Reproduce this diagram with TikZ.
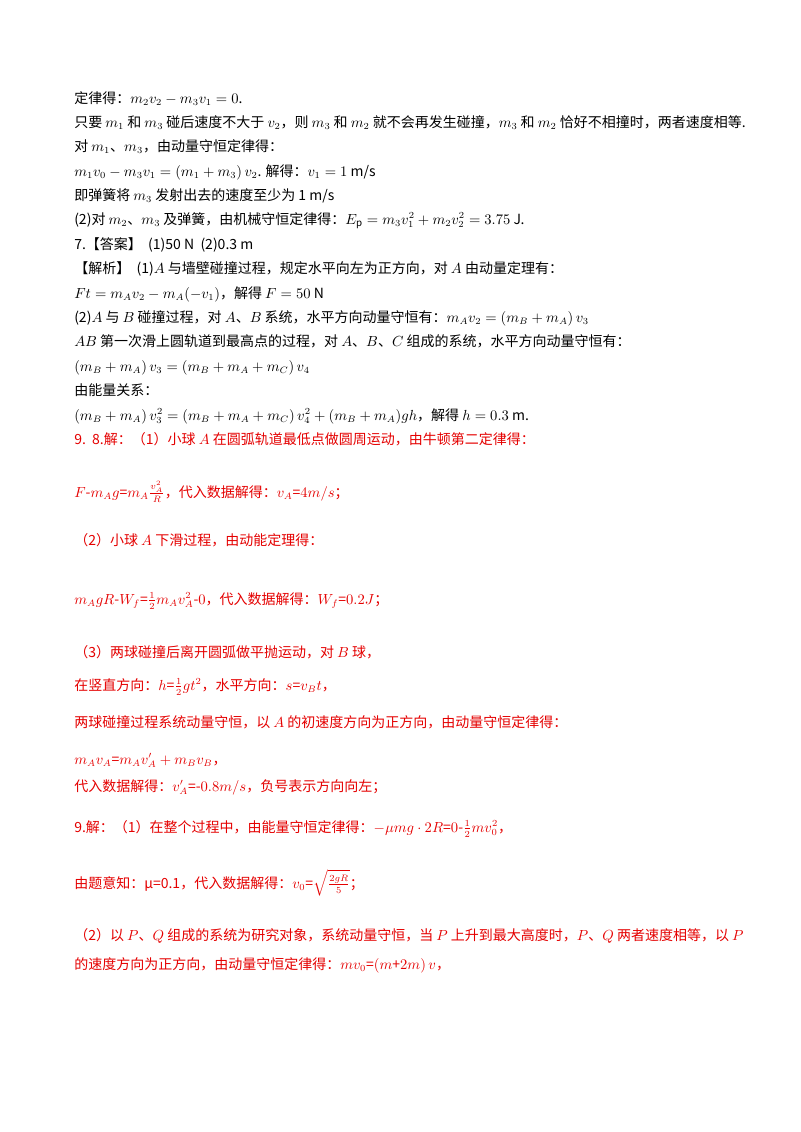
\documentclass[tikz,border=0pt]{standalone}
\usepackage{fontspec}
\setmainfont{Noto Sans CJK SC}
\usepackage{amsmath}
\begin{document}
\begin{tikzpicture}[x=0.75pt,y=-0.75pt,
  ln/.style={anchor=base west,inner sep=0pt,text height=8pt,text depth=2pt,font=\fontsize{10.5pt}{12pt}\selectfont},
  rl/.style={ln,text=red!90!black}]
\useasboundingbox[fill=white] (0,0) rectangle (800,1132);
\node[ln] (l1) at (74,103) {定律得：$m_2v_2-m_3v_1=0$.};
\node[ln] (l2) at (74,127) {只要 $m_1$ 和 $m_3$ 碰后速度不大于 $v_2$，则 $m_3$ 和 $m_2$ 就不会再发生碰撞，$m_3$ 和 $m_2$ 恰好不相撞时，两者速度相等.};
\node[ln] (l3) at (74,151) {对 $m_1$、$m_3$，由动量守恒定律得：};
\node[ln] (l4) at (74,176) {$m_1v_0-m_3v_1=(m_1+m_3)\,v_2$. 解得：$v_1=1$ m/s};
\node[ln] (l5) at (74,200) {即弹簧将 $m_3$ 发射出去的速度至少为 1 m/s};
\node[ln] (l6) at (74,224) {(2)对 $m_2$、$m_3$ 及弹簧，由机械守恒定律得：$E_\mathrm{p}=m_3v_1^2+m_2v_2^2=3.75$ J.};
\node[ln] (l7) at (74,249) {7.【答案】\ \ (1)50 N\ \ (2)0.3 m};
\node[ln] (l8) at (74,273) {【解析】\ \ (1)$A$ 与墙壁碰撞过程，规定水平向左为正方向，对 $A$ 由动量定理有：};
\node[ln] (l9) at (74,298) {$Ft=m_Av_2-m_A(-v_1)$，解得 $F=50$ N};
\node[ln] (l10) at (74,322) {(2)$A$ 与 $B$ 碰撞过程，对 $A$、$B$ 系统，水平方向动量守恒有：$m_Av_2=(m_B+m_A)\,v_3$};
\node[ln] (l11) at (74,346) {$AB$ 第一次滑上圆轨道到最高点的过程，对 $A$、$B$、$C$ 组成的系统，水平方向动量守恒有：};
\node[ln] (l12) at (74,371) {$(m_B+m_A)\,v_3=(m_B+m_A+m_C)\,v_4$};
\node[ln] (l13) at (74,395) {由能量关系：};
\node[ln] (l14) at (74,420) {$(m_B+m_A)\,v_3^2=(m_B+m_A+m_C)\,v_4^2+(m_B+m_A)gh$，解得 $h=0.3$ m.};
\node[rl] (r1) at (74,444) {9.\ \ 8.解：（1）小球 $A$ 在圆弧轨道最低点做圆周运动，由牛顿第二定律得：};
\node[rl] (r2) at (74,497) {$F\text{-}m_Ag\text{=}m_A\frac{v_A^2}{R}$，代入数据解得：$v_A\text{=}4m/s$；};
\node[rl] (r3) at (74,545) {（2）小球 $A$ 下滑过程，由动能定理得：};
\node[rl] (r4) at (74,604) {$m_AgR\text{-}W_f\text{=}\frac{1}{2}m_Av_A^2\text{-}0$，代入数据解得：$W_f\text{=}0.2J$；};
\node[rl] (r5) at (74,657) {（3）两球碰撞后离开圆弧做平抛运动，对 $B$ 球，};
\node[rl] (r6) at (74,690) {在竖直方向：$h\text{=}\frac{1}{2}gt^2$，水平方向：$s\text{=}v_Bt$，};
\node[rl] (r7) at (74,727) {两球碰撞过程系统动量守恒，以 $A$ 的初速度方向为正方向，由动量守恒定律得：};
\node[rl] (r8) at (74,764) {$m_Av_A\text{=}m_Av_A'+m_Bv_B$，};
\node[rl] (r9) at (74,791) {代入数据解得：$v_A'\text{=-}0.8m/s$，负号表示方向向左；};
\node[rl] (r10) at (74,832) {9.解：（1）在整个过程中，由能量守恒定律得：$-\mu mg\cdot 2R\text{=}0\text{-}\frac{1}{2}mv_0^2$，};
\node[rl] (r11) at (74,888) {由题意知：μ=0.1，代入数据解得：$v_0\text{=}\sqrt{\frac{2gR}{5}}$；};
\node[rl] (r12) at (74,940) {（2）以 $P$、$Q$ 组成的系统为研究对象，系统动量守恒，当 $P$ 上升到最大高度时，$P$、$Q$ 两者速度相等，以 $P$};
\node[rl] (r13) at (74,969) {的速度方向为正方向，由动量守恒定律得：$mv_0\text{=}(m\text{+}2m)\,v$，};
\end{tikzpicture}
\end{document}
